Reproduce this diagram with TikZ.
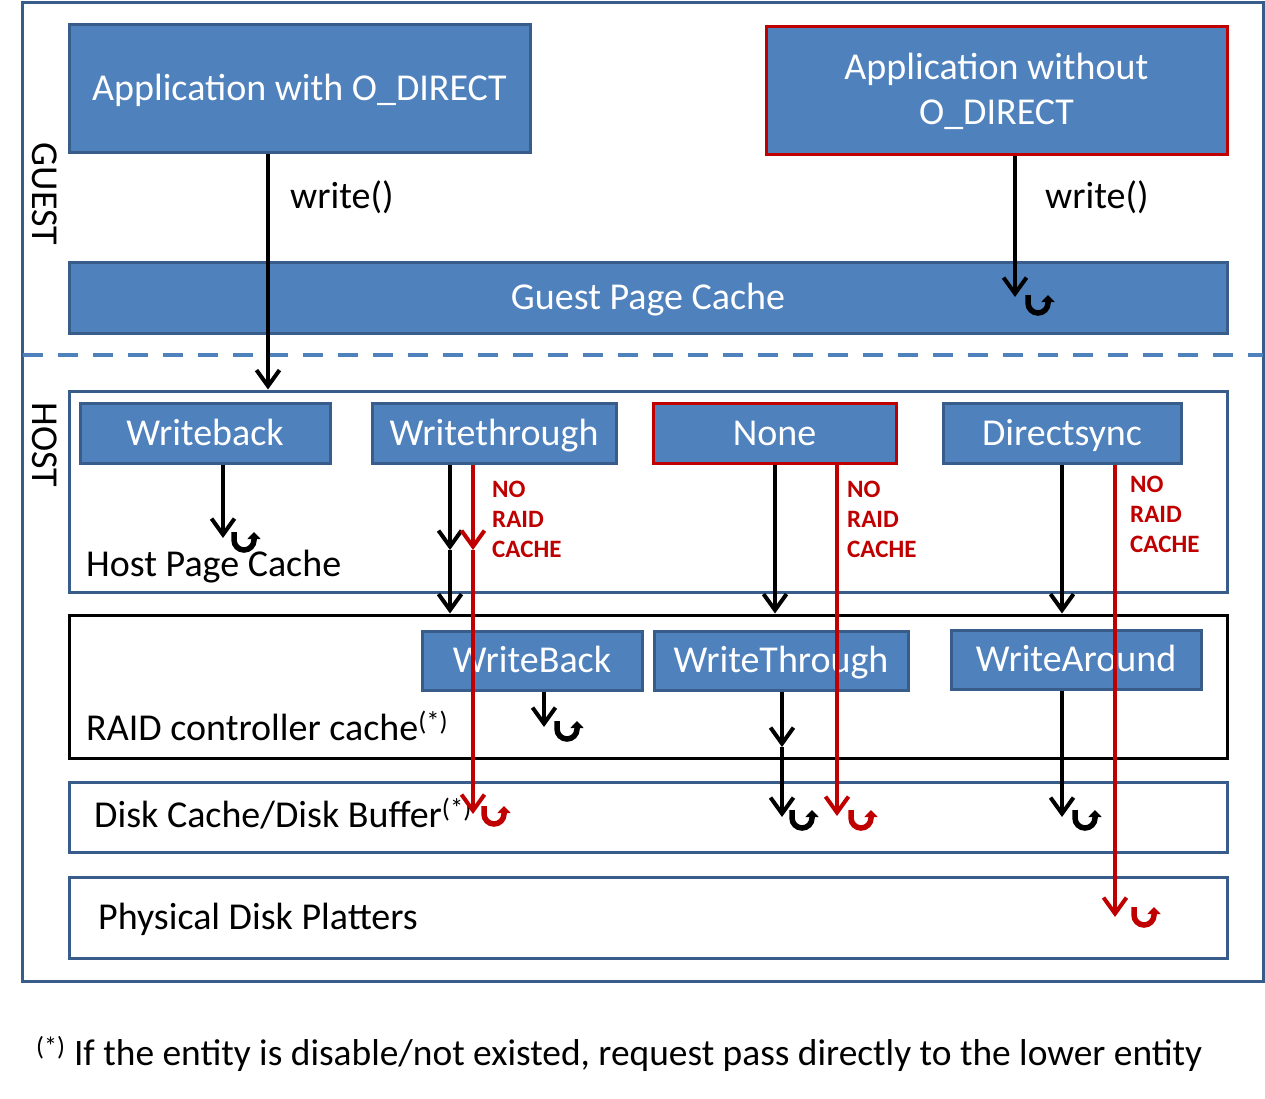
\documentclass[tikz,border=0pt]{standalone}
\usepackage{fontspec}
\setmainfont{Carlito}
\usetikzlibrary{
    arrows.meta,
    calc,
    positioning
}
\definecolor{boxfill}{HTML}{4F81BD}
\definecolor{boxline}{HTML}{385D8A}
\definecolor{nocache}{HTML}{C00000}
\tikzset{
    cachebox/.style={draw=boxline, fill=boxfill, line width=3pt, text=white, inner sep=0pt,
        text height=30pt, text depth=6pt, font=\fontsize{38}{45}\selectfont},
    layer/.style={draw=boxline, fill=white, line width=3pt, inner sep=0pt, minimum width=1158pt},
    lbl/.style={inner sep=0pt, font=\fontsize{38}{45}\selectfont},
    norc/.style={inner sep=0pt, anchor=north west, align=left, text=nocache,
        font=\bfseries\fontsize{25}{30}\selectfont},
    wr/.style={line width=4pt, -{Straight Barb[length=16pt, width=23pt, line width=4pt]}},
    uturn/.pic={
        \draw[line width=5.5pt, -{Triangle[length=7pt, width=13pt]}]
            (-10,-10) -- (-10,-2) arc[start angle=180, end angle=0, radius=10] -- (10,-10);
    }
}

\begin{document}
\begin{tikzpicture}[x=1pt, y=-1pt]
    \useasboundingbox (0,0) rectangle (1265,1099);
    \draw[boxline, line width=3pt] (22,3) rectangle (1263,981);
    \draw[boxfill, line width=4pt, dash pattern=on 20pt off 15pt] (23,355) -- (1263,355);

    \node[lbl, rotate=-90] (guest) at (45,194) {GUEST};
    \node[lbl, rotate=-90] (host) at (45,445) {HOST};

    % guest side
    \node[cachebox, minimum width=461pt, minimum height=128pt] (appd) at (299.5,89) {Application with O\_DIRECT};
    \node[cachebox, draw=nocache, align=center, text height=, text depth=, minimum width=461pt, minimum height=128pt] (appn) at (996.5,91) {Application without\\O\_DIRECT};
    \node[cachebox, minimum width=1158pt, minimum height=71pt] (gpc) at (648,297.5) {Guest Page Cache};
    \node[lbl, anchor=west] (wrd) at (290,197) {write()};
    \node[lbl, anchor=west] (wrn) at (1045,197) {write()};

    % host side
    \node[layer, minimum height=201pt] (hostbox) at (648,491.5) {};
    \node[lbl, anchor=base west] (hpc) at (86,576) {Host Page Cache};
    \node[cachebox, minimum width=250pt, minimum height=60pt] (wb) at (205,433) {Writeback};
    \node[cachebox, minimum width=244pt, minimum height=60pt] (wt) at (494,433) {Writethrough};
    \node[cachebox, draw=nocache, minimum width=243pt, minimum height=60pt] (none) at (774.5,433) {None};
    \node[cachebox, minimum width=238pt, minimum height=60pt] (ds) at (1062,433) {Directsync};

    \node[layer, draw=black, minimum height=143pt] (raid) at (648,686.5) {};
    \node[lbl, anchor=base west] (raidl) at (86,740) {RAID controller cache\textsuperscript{(*)}};
    \node[cachebox, minimum width=220pt, minimum height=59pt] (rwb) at (532,660.5) {WriteBack};
    \node[cachebox, minimum width=254pt, minimum height=59pt] (rwt) at (781,660.5) {WriteThrough};
    \node[cachebox, minimum width=250pt, minimum height=59pt] (rwa) at (1076,659.5) {WriteAround};

    \node[layer, minimum height=70pt] (disk) at (648,817) {};
    \node[lbl, anchor=base west] (diskl) at (94,827) {Disk Cache/Disk Buffer\textsuperscript{(*)}};
    \node[layer, minimum height=81pt] (plat) at (648,917.5) {};
    \node[lbl, anchor=base west] (platl) at (98,929) {Physical Disk Platters};

    \node[norc] (nrc1) at (492,481) {NO\\RAID\\CACHE};
    \node[norc] (nrc2) at (847,481) {NO\\RAID\\CACHE};
    \node[norc] (nrc3) at (1130,476) {NO\\RAID\\CACHE};

    \node[lbl, anchor=base west, font=\fontsize{37.4}{45}\selectfont] (note) at (36,1065) {\textsuperscript{(*)} If the entity is disable/not existed, request pass directly to the lower entity};

    % arrow ends
    \coordinate (gpcin) at (1015,297);
    \coordinate (hpcin) at (223,538);
    \coordinate (wtmid) at (450,550);
    \coordinate (wtrmid) at (473,550);
    \coordinate (wtrend) at (473,814);
    \coordinate (nnend) at (837,816);
    \coordinate (dsend) at (1115,917);
    \coordinate (rwbend) at (544,727);
    \coordinate (rwtmid) at (782,747);
    \coordinate (rwtend) at (782,817);
    \coordinate (rwaend) at (1062,817);

    % write paths
    \draw[wr] (268,0 |- appd.south) -- (268,0 |- hostbox.north);
    \draw[wr] (gpcin |- appn.south) -- (gpcin);
    \draw[wr] (hpcin |- wb.south) -- (hpcin);
    \draw[wr] (wtmid |- wt.south) -- (wtmid);
    \draw[wr] (wtmid) -- (wtmid |- raid.north);
    \draw[wr] (none.south -| 775,0) -- (775,0 |- raid.north);
    \draw[wr] (ds.south) -- (ds.south |- raid.north);
    \draw[wr] (rwbend |- rwb.south) -- (rwbend);
    \draw[wr] (rwtmid |- rwt.south) -- (rwtmid);
    \draw[wr] (rwtmid) -- (rwtend);
    \draw[wr] (rwaend |- rwa.south) -- (rwaend);

    \draw[wr, nocache] (wtrmid |- wt.south) -- (wtrmid);
    \draw[wr, nocache] (wtrmid) -- (wtrend);
    \draw[wr, nocache] (nnend |- none.south) -- (nnend);
    \draw[wr, nocache] (dsend |- ds.south) -- (dsend);

    % returns
    \pic at (1038,305) {uturn};
    \pic at (244,542) {uturn};
    \pic at (567,731) {uturn};
    \pic at (802,820) {uturn};
    \pic at (1085,820) {uturn};
    \pic[color=nocache] at (494,816) {uturn};
    \pic[color=nocache] at (861,820) {uturn};
    \pic[color=nocache] at (1144,917) {uturn};
\end{tikzpicture}
\end{document}
